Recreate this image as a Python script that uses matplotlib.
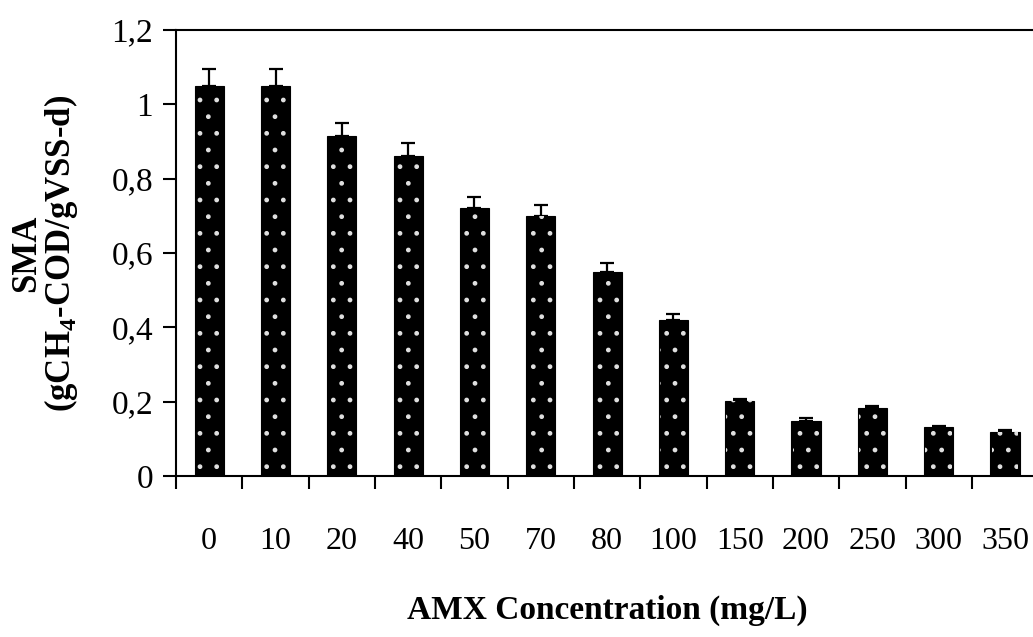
import matplotlib
matplotlib.use("Agg")
import matplotlib.pyplot as plt
import numpy as np

categories = ["0", "10", "20", "40", "50", "70", "80", "100", "150", "200", "250", "300", "350"]
sma = [1.05, 1.05, 0.914, 0.862, 0.72, 0.70, 0.55, 0.42, 0.202, 0.148, 0.184, 0.132, 0.119]
err = [0.045, 0.045, 0.035, 0.033, 0.03, 0.028, 0.022, 0.015, 0.004, 0.009, 0.004, 0.003, 0.004]
yticks = [0, 0.2, 0.4, 0.6, 0.8, 1.0, 1.2]
ytick_labels = ["0", "0,2", "0,4", "0,6", "0,8", "1", "1,2"]

plt.rcParams['font.family'] = ['Liberation Serif', 'DejaVu Serif']
plt.rcParams['mathtext.fontset'] = 'custom'
plt.rcParams['mathtext.rm'] = 'Liberation Serif:bold'
plt.rcParams['mathtext.bf'] = 'Liberation Serif:bold'

fig = plt.figure(figsize=(10.33, 6.37), dpi=100)
ax = fig.add_axes([0.1704, 0.2527, 0.8346, 0.7002])

x = np.arange(len(categories))
ax.bar(x, sma, width=0.44, color='black', edgecolor='black', linewidth=0.8, zorder=2)
ax.bar(x, sma, width=0.40, fill=False, hatch='.', edgecolor='#e0e0e0', linewidth=0, zorder=3)
ax.errorbar(x, sma, yerr=[np.zeros(len(err)), err], fmt='none', ecolor='black',
            elinewidth=1.6, capsize=5, capthick=1.6, zorder=1)

ax.set_xlim(-0.5, len(categories) - 0.5)
ax.set_ylim(0, 1.2)
ax.set_yticks(yticks)
ax.set_yticklabels(ytick_labels, fontsize=24)
ax.set_xticks(x)
ax.set_xticklabels(categories, fontsize=23)
ax.set_xticks(np.arange(-0.5, len(categories)), minor=True)
ax.tick_params(axis='x', which='major', length=0, pad=37)
ax.tick_params(axis='x', which='minor', length=9.5, width=1.5, direction='out')
ax.tick_params(axis='y', which='major', length=9.5, width=1.5, direction='out', pad=7)
for s in ax.spines.values():
    s.set_linewidth(1.5)

ax.set_xlabel("AMX Concentration (mg/L)", fontsize=24, fontweight='bold', va='center')
ax.xaxis.set_label_coords(0.5, (476 - 610) / 446)
ax.set_ylabel("SMA\n(gCH$_4$-COD/gVSS-d)", fontsize=25, fontweight='bold',
              linespacing=0.95, va='center', ha='center')
ax.yaxis.set_label_coords((45 - 176) / 862, 0.5)

fig.savefig("out.png", dpi=100)
